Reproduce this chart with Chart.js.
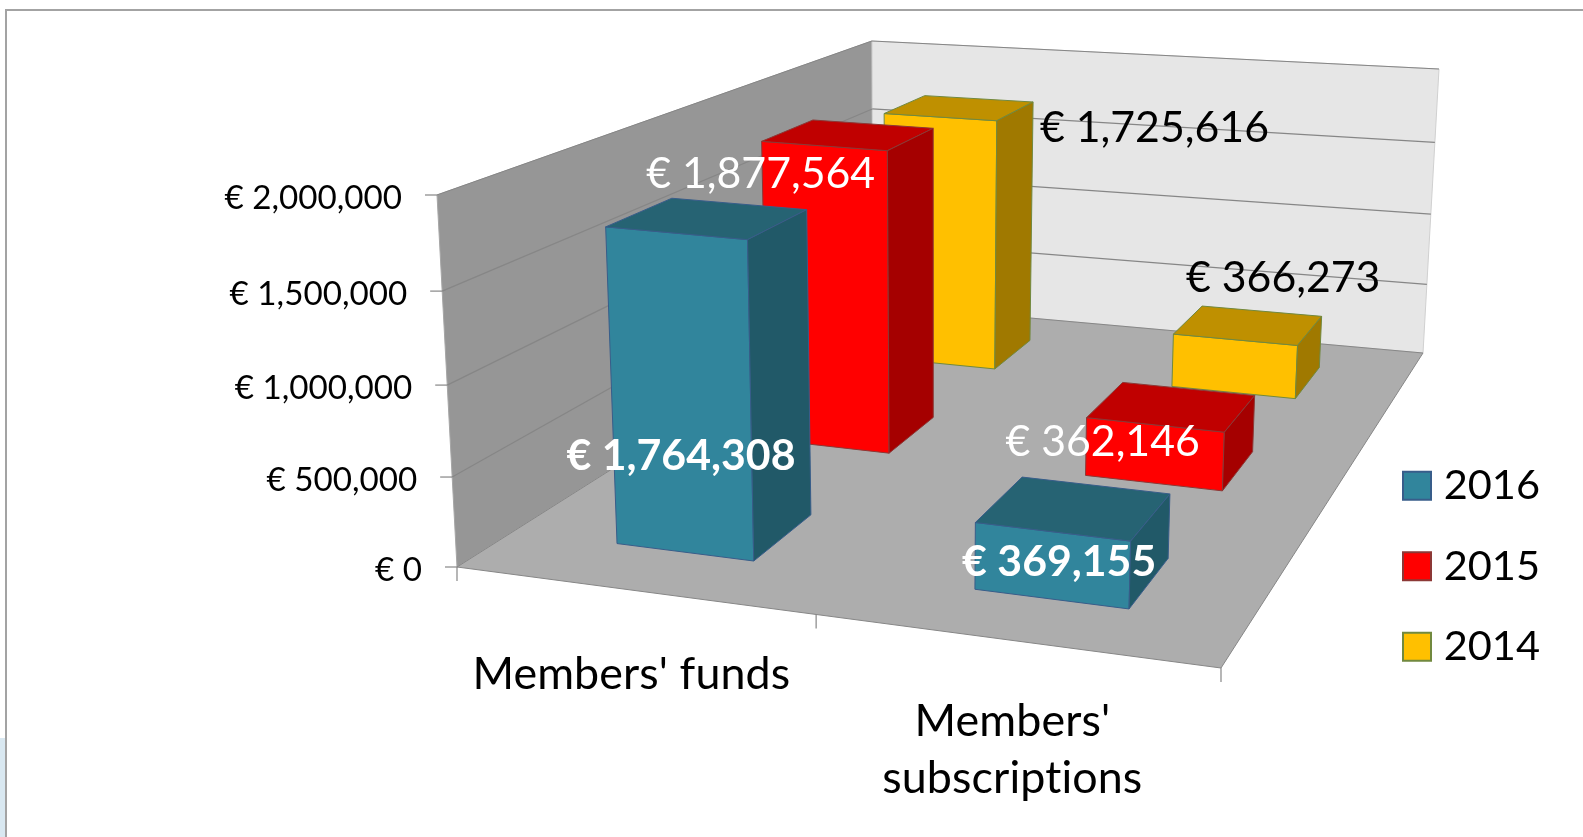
<!DOCTYPE html>
<html lang="en">
<head>
    <meta charset="UTF-8">
    <title>Members' funds and subscriptions</title>
    <script src="https://cdn.jsdelivr.net/npm/chart.js"></script>
    <style>
        html, body { margin: 0; padding: 0; background: #fff; overflow: hidden; }
        #frame {
            position: absolute; left: 5px; top: 9px; right: -4px; bottom: -4px;
            border: 2px solid #a3a3a3;
        }
        #sliver {
            position: absolute; left: 0; top: 738px; width: 5px; height: 99px;
            background: #d9e8f1;
        }
        #chart { position: absolute; left: 0; top: 0; display: block; }
    </style>
</head>
<body>
    <div id="sliver"></div>
    <div id="frame"></div>
    <canvas id="chart" width="1583" height="837"></canvas>
    <script>
        const categories = ["Members' funds", ["Members'", "subscriptions"]];
        const seriesNames = ['2016', '2015', '2014'];
        const values2016 = [1764308, 369155];
        const values2015 = [1877564, 362146];
        const values2014 = [1725616, 366273];
        const yTickValues = [0, 500000, 1000000, 1500000, 2000000];
        const yTickLabels = ['€ 0', '€ 500,000', '€ 1,000,000', '€ 1,500,000', '€ 2,000,000'];
        const valueLabels = [
            ['€ 1,764,308', '€ 369,155'],
            ['€ 1,877,564', '€ 362,146'],
            ['€ 1,725,616', '€ 366,273']
        ];

        // look of the three bar faces, per series
        const faces = [
            { front: '#31859c', top: '#266373', side: '#215968', line: '#385d8a' },
            { front: '#ff0000', top: '#c00000', side: '#a50000', line: '#8c3836' },
            { front: '#ffc000', top: '#bf9000', side: '#a07900', line: '#71893f' }
        ];
        // where each value label sits relative to the middle of its bar top
        const labelShift = [
            [[-27, 238, 'bold', '#fff'], [-15, 54, 'bold', '#fff']],
            [[-88, 39, 'normal', '#fff'], [-69, 36, 'normal', '#fff']],
            [[195, 20, 'normal', '#000'], [35, -47, 'normal', '#000']]
        ];

        // screen corners of the 3D box the chart stands in
        const floor = { fl: [457, 567], fr: [1221, 668], bl: [873, 304], br: [1423, 353] };
        const ceil = { fl: [437, 195], fr: [1235, 266], bl: [872, 41], br: [1439, 69] };
        // the rows drift a little to the right as they go back
        const rowSlip = [0.0033, 0.006, 0.0087];

        function persp(t, k) {
            return k * t / (1 + (k - 1) * t);
        }

        function mix(a, b, t) {
            return [a[0] + (b[0] - a[0]) * t, a[1] + (b[1] - a[1]) * t];
        }

        // u along the categories, w into the depth, v up the value axis (all 0..1)
        function project(u, w, v) {
            const pu = persp(u, 0.887), pw = persp(w, 1.44), pv = persp(v, 0.957);
            const low = mix(mix(floor.fl, floor.fr, pu), mix(floor.bl, floor.br, pu), pw);
            const high = mix(mix(ceil.fl, ceil.fr, pu), mix(ceil.bl, ceil.br, pu), pw);
            return mix(low, high, pv);
        }

        function poly(ctx, pts, fill, stroke, lineWidth) {
            ctx.beginPath();
            pts.forEach((p, i) => i ? ctx.lineTo(p[0], p[1]) : ctx.moveTo(p[0], p[1]));
            ctx.closePath();
            if (fill) {
                ctx.fillStyle = fill;
                ctx.fill();
            }
            if (stroke) {
                ctx.strokeStyle = stroke;
                ctx.lineWidth = lineWidth || 1;
                ctx.stroke();
            }
        }

        function line(ctx, a, b, color, lineWidth) {
            ctx.beginPath();
            ctx.moveTo(a[0], a[1]);
            ctx.lineTo(b[0], b[1]);
            ctx.strokeStyle = color;
            ctx.lineWidth = lineWidth || 1.2;
            ctx.stroke();
        }

        function drawWalls(chart, ctx) {
            const y = chart.scales.y;
            const edge = '#868686';
            poly(ctx, [project(0, 0, 0), project(0, 1, 0), project(0, 1, 1), project(0, 0, 1)], '#969696', '#a6a6a6');
            poly(ctx, [project(0, 1, 0), project(1, 1, 0), project(1, 1, 1), project(0, 1, 1)], '#e6e6e6', '#d0d0d0');
            poly(ctx, [project(0, 0, 0), project(1, 0, 0), project(1, 1, 0), project(0, 1, 0)], '#adadad', edge);

            yTickValues.forEach(val => {
                const v = (y.bottom - y.getPixelForValue(val)) / y.height;
                if (val > 0) {
                    line(ctx, project(0, 0, v), project(0, 1, v), edge);
                    line(ctx, project(0, 1, v), project(1, 1, v), edge);
                }
            });
        }

        function drawAxes(chart, ctx) {
            const x = chart.scales.x, y = chart.scales.y;
            ctx.fillStyle = '#000';
            ctx.textBaseline = 'middle';

            ctx.font = '33.2px Lato';
            ctx.textAlign = 'right';
            yTickValues.forEach((val, i) => {
                const v = (y.bottom - y.getPixelForValue(val)) / y.height;
                const p = project(0, 0, v);
                line(ctx, [p[0] - 12, p[1]], p, '#868686');
                ctx.fillText(yTickLabels[i], p[0] - 35, p[1] + 3);
            });

            [0, 0.5, 1].forEach(u => {
                const p = project(u, 0, 0);
                line(ctx, p, [p[0], p[1] + 14], '#868686');
            });

            ctx.font = '44.8px Lato';
            ctx.letterSpacing = '0.1px'; // keeps Lato from joining the t and i
            ctx.textAlign = 'center';
            categories.forEach((label, j) => {
                const u = (x.getPixelForValue(j) - x.left) / x.width;
                const p = project(u, 0, 0);
                const lines = Array.isArray(label) ? label : [label];
                const down = lines.length > 1 ? 81 : 85;
                lines.forEach((text, n) => {
                    ctx.fillText(text, p[0], p[1] + down + n * 57);
                });
            });
            ctx.letterSpacing = '0px';
        }

        function drawBars(chart, ctx) {
            const x = chart.scales.x, y = chart.scales.y;
            const depth = 0.132;
            // back row first so nearer bars cover it
            for (let i = seriesNames.length - 1; i >= 0; i--) {
                const w0 = (i + 0.5) / 3 - depth / 2, w1 = w0 + depth;
                chart.getDatasetMeta(i).data.forEach(el => {
                    const u0 = (el.x - el.width / 2 - x.left) / x.width + rowSlip[i];
                    const u1 = (el.x + el.width / 2 - x.left) / x.width + rowSlip[i];
                    const v = (y.bottom - el.y) / y.height;
                    const f = faces[i];
                    poly(ctx, [project(u0, w0, 0), project(u1, w0, 0), project(u1, w0, v), project(u0, w0, v)], f.front, f.line);
                    poly(ctx, [project(u0, w0, v), project(u1, w0, v), project(u1, w1, v), project(u0, w1, v)], f.top, f.line);
                    poly(ctx, [project(u1, w0, 0), project(u1, w1, 0), project(u1, w1, v), project(u1, w0, v)], f.side, f.line);
                });
            }
        }

        function drawValueLabels(chart, ctx) {
            const x = chart.scales.x, y = chart.scales.y;
            ctx.textAlign = 'center';
            ctx.textBaseline = 'middle';
            seriesNames.forEach((name, i) => {
                chart.getDatasetMeta(i).data.forEach((el, j) => {
                    const u = (el.x - x.left) / x.width + rowSlip[i];
                    const v = (y.bottom - el.y) / y.height;
                    const p = project(u, (i + 0.5) / 3, v);
                    const s = labelShift[i][j];
                    ctx.font = s[2] + ' 42.8px Lato';
                    ctx.fillStyle = s[3];
                    ctx.fillText(valueLabels[i][j], p[0] + s[0], p[1] + s[1]);
                });
            });
        }

        const box3d = {
            id: 'box3d',
            afterLayout(chart) {
                // legend goes down in the right corner, text right up against its own box
                const l = chart.legend;
                l.left = 1364;
                l.right = 1540;
                l.top = 426;
            },
            beforeDatasetsDraw(chart) {
                const ctx = chart.ctx;
                ctx.save();
                drawWalls(chart, ctx);
                drawAxes(chart, ctx);
                drawBars(chart, ctx);
                drawValueLabels(chart, ctx);
                ctx.restore();
                return false; // the flat bars stay undrawn
            }
        };

        new Chart(document.getElementById('chart'), {
            type: 'bar',
            data: {
                labels: categories,
                datasets: [
                    { label: seriesNames[0], data: values2016, backgroundColor: faces[0].front, borderColor: faces[0].line, borderWidth: 2 },
                    { label: seriesNames[1], data: values2015, backgroundColor: faces[1].front, borderColor: faces[1].line, borderWidth: 2 },
                    { label: seriesNames[2], data: values2014, backgroundColor: faces[2].front, borderColor: faces[2].line, borderWidth: 2 }
                ]
            },
            options: {
                responsive: false,
                animation: false,
                datasets: { bar: { grouped: false, categoryPercentage: 1, barPercentage: 0.396 } },
                scales: {
                    x: { display: false },
                    y: { display: false, min: 0, max: 2000000 }
                },
                plugins: {
                    tooltip: { enabled: false },
                    legend: {
                        position: 'right',
                        align: 'start',
                        labels: {
                            boxWidth: 28,
                            boxHeight: 28,
                            padding: 39,
                            color: '#000',
                            textAlign: 'right',
                            font: { family: 'Lato', size: 41.5 }
                        }
                    }
                }
            },
            plugins: [box3d]
        });
    </script>
</body>
</html>
